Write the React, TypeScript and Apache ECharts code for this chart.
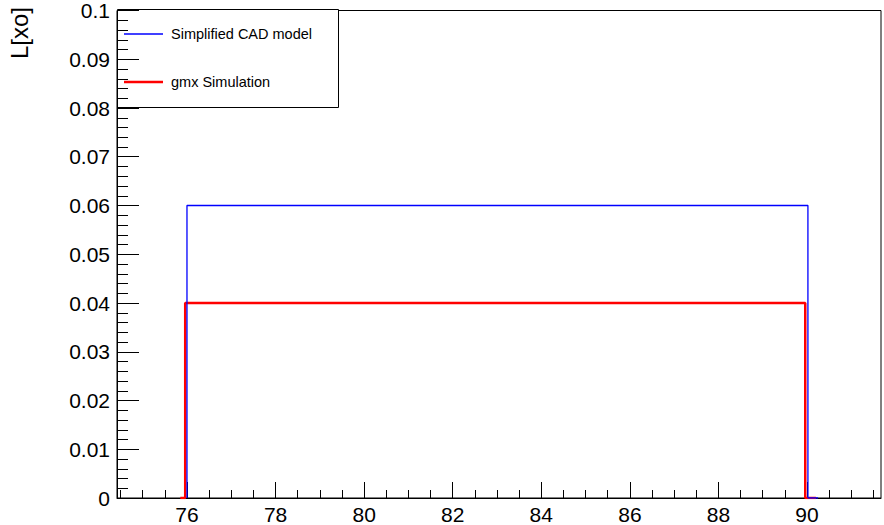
import { useEffect, useRef } from "react";
import * as echarts from "echarts";

const seriesNames = ["Simplified CAD model", "gmx Simulation"];
const seriesColors = ["#0000ff", "#ff0000"];
// histogram bin edges and bin contents
const cadEdges = [76, 90.02, 90.25];
const cadValues = [0.06, 0];
const gmxEdges = [75.85, 75.96, 89.96, 90.2];
const gmxValues = [0, 0.04, 0];

const xMin = 74.42;
const xMax = 91.67;
const xMajorTicks = [76, 78, 80, 82, 84, 86, 88, 90];
const xMinorTicks = [
  74.5, 75, 75.5, 76.5, 77, 77.5, 78.5, 79, 79.5, 80.5, 81, 81.5, 82.5, 83, 83.5,
  84.5, 85, 85.5, 86.5, 87, 87.5, 88.5, 89, 89.5, 90.5, 91, 91.5,
];
const yMin = 0;
const yMax = 0.1;
const yStep = 0.01;
const yTitle = "L[xo]";

function histPoints(edges: number[], values: number[]) {
  const pts: number[][] = [[edges[0], 0]];
  values.forEach((v, i) => {
    pts.push([edges[i], v]);
    pts.push([edges[i + 1], v]);
  });
  pts.push([edges[edges.length - 1], 0]);
  return pts;
}

const FONT = "'Liberation Sans', Arial, Helvetica, sans-serif";

export default function App() {
  const ref = useRef<HTMLDivElement>(null);
  useEffect(() => {
    if (!ref.current) return;
    const chart = echarts.init(ref.current, undefined, { renderer: "svg" });
    const axisLine = { show: true, lineStyle: { color: "#000", width: 1 } };
    chart.setOption({
      animation: false,
      backgroundColor: "#fff",
      grid: {
        left: 117,
        right: 3,
        top: 9,
        bottom: 25,
        show: true,
        borderColor: "#000",
        borderWidth: 1,
        backgroundColor: "transparent",
      },
      xAxis: [
        {
          type: "value",
          position: "bottom",
          min: xMin,
          max: xMax,
          axisLine,
          splitLine: { show: false },
          axisTick: {
            show: true,
            inside: true,
            length: 16,
            customValues: xMajorTicks,
            lineStyle: { color: "#000", width: 1 },
          },
          axisLabel: {
            customValues: xMajorTicks,
            fontFamily: FONT,
            fontSize: 21,
            color: "#000",
            margin: 6,
          },
        },
        {
          type: "value",
          position: "bottom",
          min: xMin,
          max: xMax,
          axisLine: { show: false },
          splitLine: { show: false },
          axisTick: {
            show: true,
            inside: true,
            length: 8,
            customValues: xMinorTicks,
            lineStyle: { color: "#000", width: 1 },
          },
          axisLabel: { show: false },
        },
      ],
      yAxis: {
        type: "value",
        min: yMin,
        max: yMax,
        interval: yStep,
        axisLine,
        splitLine: { show: false },
        axisTick: { show: true, inside: true, length: 22, lineStyle: { color: "#000", width: 1 } },
        minorTick: { show: true, splitNumber: 5, length: 11, lineStyle: { color: "#000", width: 1 } },
        axisLabel: {
          fontFamily: FONT,
          fontSize: 21,
          color: "#000",
          margin: 7,
          formatter: (v: number) => String(+v.toFixed(3)),
        },
      },
      series: [
        {
          name: seriesNames[0],
          type: "line",
          xAxisIndex: 0,
          data: histPoints(cadEdges, cadValues),
          showSymbol: false,
          lineStyle: { color: seriesColors[0], width: 1.3 },
          z: 3,
        },
        {
          name: seriesNames[1],
          type: "line",
          xAxisIndex: 0,
          data: histPoints(gmxEdges, gmxValues),
          showSymbol: false,
          lineStyle: { color: seriesColors[1], width: 2.5 },
          z: 2,
        },
      ],
      graphic: [
        {
          type: "text",
          x: 19,
          y: 33,
          rotation: Math.PI / 2,
          style: {
            text: yTitle,
            fontFamily: FONT,
            fontSize: 24,
            fill: "#000",
            align: "center",
            verticalAlign: "middle",
          },
        },
        {
          type: "group",
          z: 10,
          children: [
            {
              type: "rect",
              shape: { x: 117.5, y: 9.5, width: 221, height: 98 },
              style: { fill: "#fff", stroke: "#000", lineWidth: 1 },
            },
            {
              type: "line",
              shape: { x1: 124, y1: 34, x2: 163, y2: 34 },
              style: { stroke: seriesColors[0], lineWidth: 1.3 },
            },
            {
              type: "text",
              x: 171,
              y: 34,
              style: {
                text: seriesNames[0],
                fontFamily: FONT,
                fontSize: 14.5,
                fill: "#000",
                verticalAlign: "middle",
              },
            },
            {
              type: "line",
              shape: { x1: 124, y1: 82, x2: 163, y2: 82 },
              style: { stroke: seriesColors[1], lineWidth: 2.5 },
            },
            {
              type: "text",
              x: 171,
              y: 82,
              style: {
                text: seriesNames[1],
                fontFamily: FONT,
                fontSize: 14.5,
                fill: "#000",
                verticalAlign: "middle",
              },
            },
          ],
        },
      ],
    });
    return () => chart.dispose();
  }, []);
  return (
    <div
      ref={ref}
      style={{ position: "fixed", left: 0, top: 0, width: 884, height: 525, background: "#fff" }}
    />
  );
}
